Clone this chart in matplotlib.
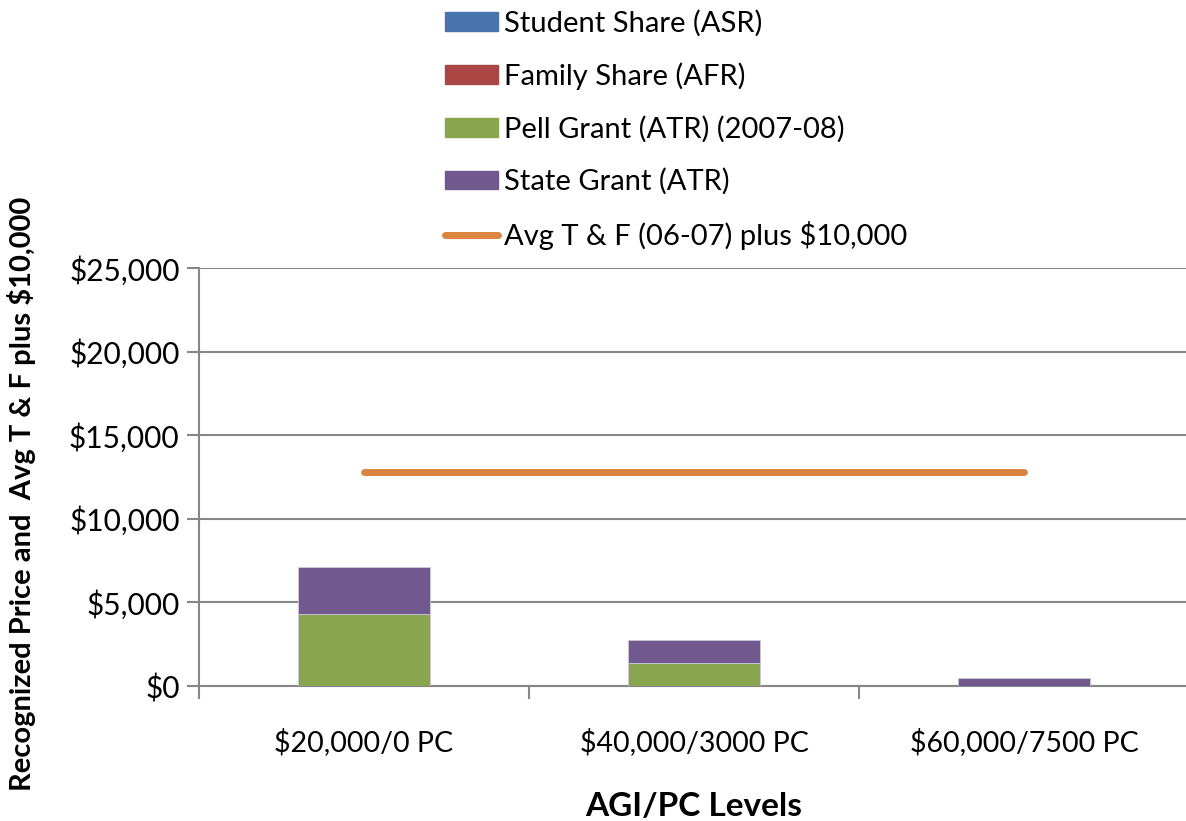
import matplotlib.pyplot as plt
import numpy as np
from matplotlib.patches import Patch
from matplotlib.lines import Line2D

plt.rcParams['font.family'] = ['Lato', 'DejaVu Sans']

# Data
categories = ['$20,000/0 PC', '$40,000/3000 PC', '$60,000/7500 PC']
student_share = [0, 0, 0]
family_share = [0, 0, 0]
pell_grant = [4310, 1380, 0]
state_grant = [2800, 1370, 480]
avg_tf_plus = [12800, 12800, 12800]

colors = {'student': '#4774AA', 'family': '#AA4643', 'pell': '#89A54E',
          'state': '#71588F', 'line': '#DB843D'}

fig = plt.figure(figsize=(11.86, 8.21), dpi=100)
ax = fig.add_axes([199 / 1186, 1 - 686 / 821, 990 / 1186, 418 / 821])

x = np.arange(len(categories))
w = 0.4
bottom = np.zeros(len(categories))
for vals, c in [(student_share, colors['student']), (family_share, colors['family']),
                (pell_grant, colors['pell']), (state_grant, colors['state'])]:
    ax.bar(x, vals, w, bottom=bottom, color=c, edgecolor='#c9c9d9', linewidth=0.6, zorder=3)
    bottom += np.array(vals)

ax.plot(x, avg_tf_plus, color=colors['line'], linewidth=5, solid_capstyle='round', zorder=4)

ax.set_xlim(-0.5, 2.5)
ax.set_ylim(0, 25000)
ax.set_yticks(np.arange(0, 25001, 5000))
ax.set_yticklabels([f'${v:,.0f}' for v in np.arange(0, 25001, 5000)], fontsize=21.5)
ax.set_xticks(x)
ax.set_xticklabels(categories, fontsize=20.5)
ax.set_xticks([-0.5, 0.5, 1.5, 2.5], minor=True)
ax.tick_params(axis='x', which='major', length=0, pad=30)
ax.tick_params(axis='x', which='minor', length=9, color='#868686', width=1.5)
ax.tick_params(axis='y', length=9, color='#868686', width=1.5, pad=5)
ax.grid(axis='y', color='#868686', linewidth=1.5, zorder=0)
ax.set_axisbelow(True)
for s in ['top', 'right']:
    ax.spines[s].set_visible(False)
for s in ['left', 'bottom']:
    ax.spines[s].set_color('#868686')
    ax.spines[s].set_linewidth(1.5)

ax.set_xlabel('AGI/PC Levels', fontsize=24, fontweight='bold', labelpad=26)
ax.set_ylabel('Recognized Price and  Avg T & F plus $10,000', fontsize=21,
              fontweight='bold', labelpad=24)
ax.yaxis.label.set_y(0.46)

handles = [Patch(color=colors['student'], label='Student Share (ASR)'),
           Patch(color=colors['family'], label='Family Share (AFR)'),
           Patch(color=colors['pell'], label='Pell Grant (ATR) (2007-08)'),
           Patch(color=colors['state'], label='State Grant (ATR)'),
           Line2D([0], [0], color=colors['line'], linewidth=5, solid_capstyle='round',
                  label='Avg T & F (06-07) plus $10,000')]
fig.legend(handles=handles, loc='upper left', bbox_to_anchor=(419 / 1186, 1.02),
           frameon=False, fontsize=21, handlelength=1.8, handleheight=0.6,
           handletextpad=0.2, labelspacing=0.88)

fig.savefig('out.png', dpi=100)
